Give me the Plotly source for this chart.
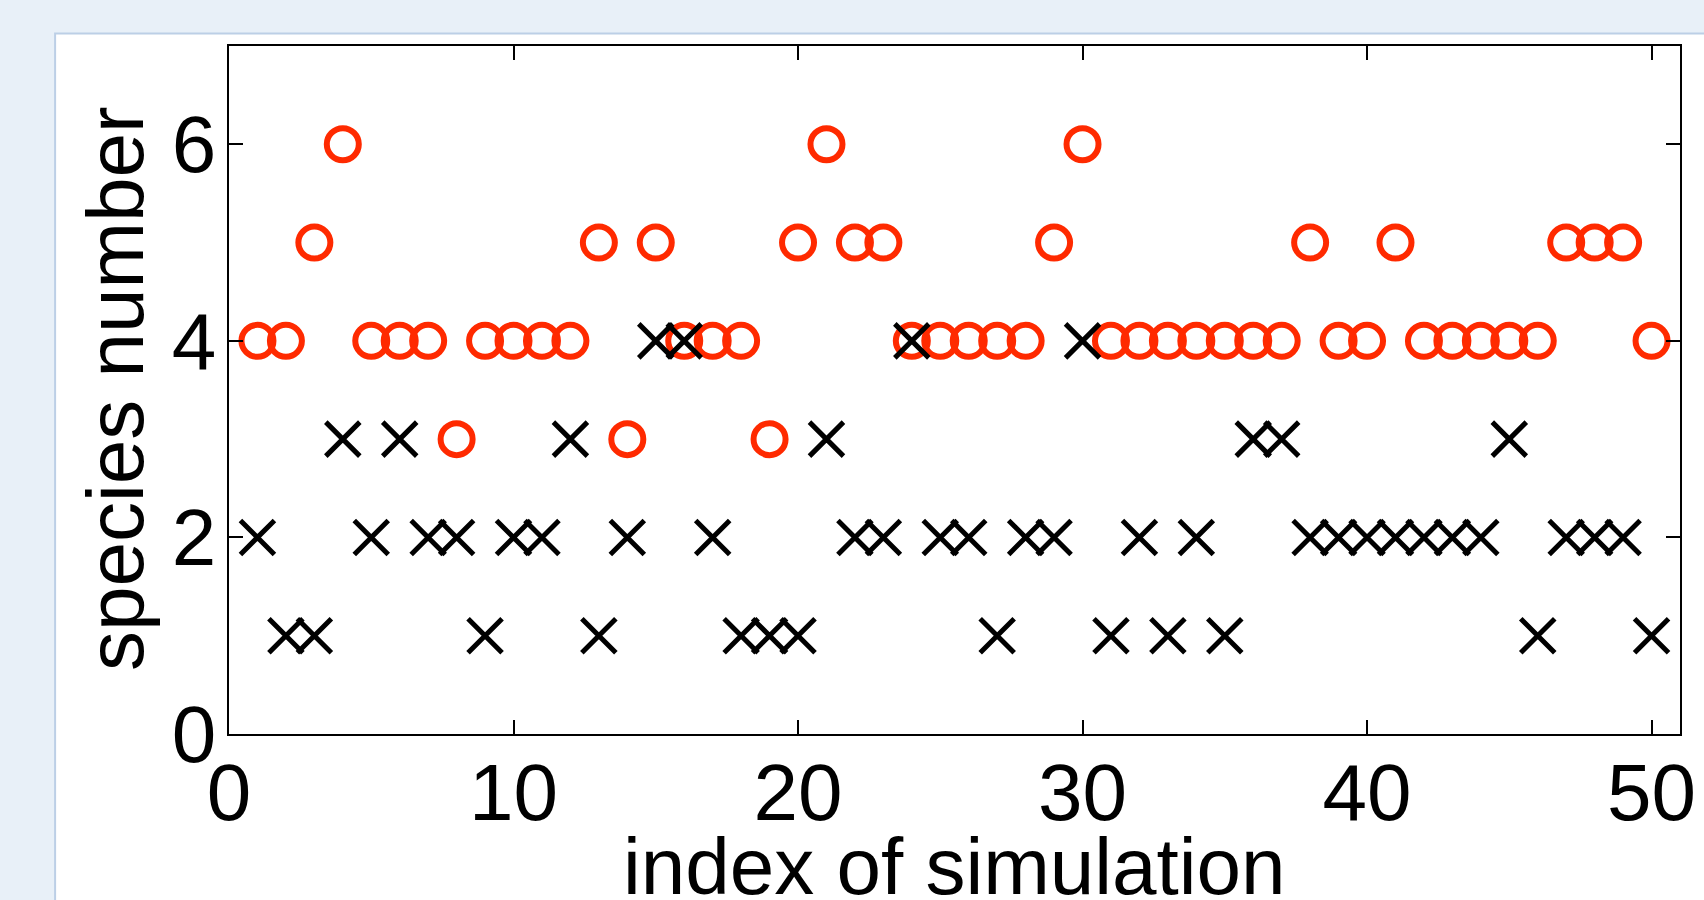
import plotly.graph_objects as go

sim_index = list(range(1, 51))
species_red = [4, 4, 5, 6, 4, 4, 4, 3, 4, 4,
               4, 4, 5, 3, 5, 4, 4, 4, 3, 5,
               6, 5, 5, 4, 4, 4, 4, 4, 5, 6,
               4, 4, 4, 4, 4, 4, 4, 5, 4, 4,
               5, 4, 4, 4, 4, 4, 5, 5, 5, 4]
species_black = [2, 1, 1, 3, 2, 3, 2, 2, 1, 2,
                 2, 3, 1, 2, 4, 4, 2, 1, 1, 1,
                 3, 2, 2, 4, 2, 2, 1, 2, 2, 4,
                 1, 2, 1, 2, 1, 3, 3, 2, 2, 2,
                 2, 2, 2, 2, 3, 1, 2, 2, 2, 1]
x_ticks = [0, 10, 20, 30, 40, 50]
y_ticks = [0, 2, 4, 6]
x_title = "index of simulation"
y_title = "species number"

FONT = "Liberation Sans, Arial, Helvetica, sans-serif"
W, H = 1704, 900
L, R, T, B = 228.5, 1680.4, 46, 734.3
pw, ph = R - L, B - T

fig = go.Figure()
fig.add_trace(go.Scatter(
    x=sim_index, y=species_red, mode="markers",
    marker=dict(symbol="circle-open", size=32, color="#ff2a00",
                line=dict(width=6, color="#ff2a00")),
    hoverinfo="x+y", name="red"))
fig.add_trace(go.Scatter(
    x=sim_index, y=species_black, mode="markers",
    marker=dict(symbol="x-thin-open", size=34, color="black",
                line=dict(width=5, color="black")),
    hoverinfo="x+y", name="black"))

fig.add_shape(type="rect", xref="paper", yref="paper",
              x0=(54.5 - L) / pw, x1=(W + 20 - L) / pw,
              y0=(B - (H + 20)) / ph, y1=(B - 33.5) / ph,
              fillcolor="white", line=dict(color="#bccfe6", width=2),
              layer="below")

axis_common = dict(showgrid=False, zeroline=False, showline=True,
                   linecolor="black", linewidth=1.5, mirror="ticks",
                   ticks="inside", ticklen=14, tickwidth=1.5, tickcolor="black",
                   automargin=False,
                   tickfont=dict(family=FONT, size=80, color="black"))

title_font = dict(family=FONT, size=80, color="black")
fig.add_annotation(text=x_title, xref="paper", yref="paper",
                   x=0.5, y=(B - 867) / ph, xanchor="center", yanchor="middle",
                   showarrow=False, font=title_font)
fig.add_annotation(text=y_title, xref="paper", yref="paper",
                   x=(115 - L) / pw, y=(B - 388.6) / ph,
                   xanchor="center", yanchor="middle", textangle=-90,
                   showarrow=False, font=title_font)

fig.update_layout(
    width=W, height=H, autosize=False,
    margin=dict(l=L, r=W - R, t=T, b=H - B, pad=0),
    paper_bgcolor="#e8f0f8", plot_bgcolor="white",
    showlegend=False,
    xaxis=dict(range=[0, 51], tickvals=x_ticks, ticklabelstandoff=-12, **axis_common),
    yaxis=dict(range=[0, 7], tickvals=y_ticks, ticklabelstandoff=-5, **axis_common),
)

fig.write_html("out.html", config={"displayModeBar": False},
               post_script="document.body.style.margin='0';document.body.style.background='#e8f0f8';")
